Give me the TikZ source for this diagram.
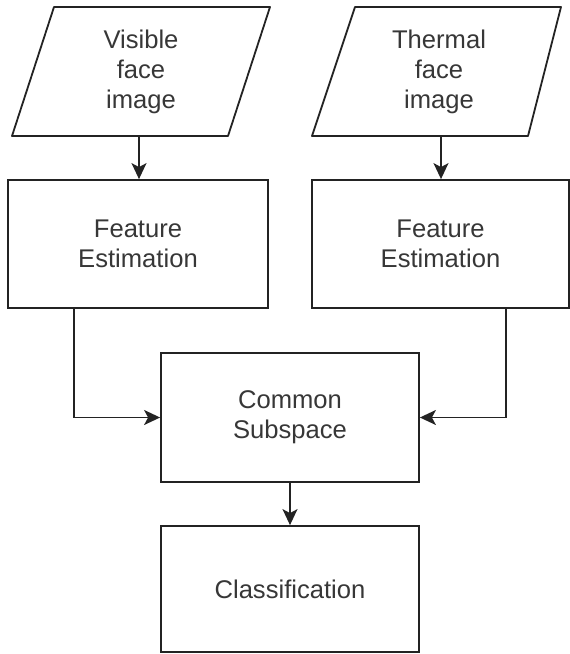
\documentclass[tikz,border=0pt]{standalone}
\usepackage{fontspec}
\setmainfont{Liberation Sans}
\usetikzlibrary{arrows.meta,calc}
\definecolor{ink}{RGB}{35,35,35}
\definecolor{txt}{RGB}{55,55,55}
\begin{document}
\begin{tikzpicture}[x=1pt,y=-1pt,
  line width=1.8pt, draw=ink,
  boxnode/.style={draw=ink, line width=1.8pt, rectangle, inner sep=0pt, text=txt,
    font=\fontsize{25.6}{30}\selectfont, align=center},
  lbl/.style={inner sep=0pt, text=txt, font=\fontsize{25.6}{30}\selectfont, align=center},
  arr/.style={draw=ink, line width=1.8pt, -{Stealth[length=16pt,width=15pt,inset=4pt]}}]
\useasboundingbox (0,0) rectangle (570,654);
% input parallelograms
\draw[ink, line join=round] (54,7) -- (270,7) -- (228,136) -- (12,136) -- cycle;
\node[lbl] (vis) at (141,72) {Visible\\face\\image};
\draw[ink, line join=round] (355,7) -- (561,7) -- (528,136) -- (312,136) -- cycle;
\node[lbl] (th) at (439,72) {Thermal\\face\\image};
\coordinate (visb) at (139,136);
\coordinate (thb) at (441,136);
% boxes
\node[boxnode, minimum width=260pt, minimum height=128pt] (fe1) at (138,244) {Feature\\Estimation};
\node[boxnode, minimum width=257pt, minimum height=128pt] (fe2) at (440.5,244) {Feature\\Estimation};
\node[boxnode, minimum width=258pt, minimum height=129pt] (cs) at (290,417.5) {Common\\Subspace};
\node[boxnode, minimum width=258pt, minimum height=126pt] (cl) at (290,589) {Classification};
% connectors
\draw[arr] (visb) -- (visb |- fe1.north);
\draw[arr] (thb) -- (thb |- fe2.north);
\draw[arr] ([xshift=-64pt]fe1.south) |- (cs.west);
\draw[arr] ([xshift=65.5pt]fe2.south) |- (cs.east);
\draw[arr] (cs.south) -- (cl.north);
\end{tikzpicture}
\end{document}
